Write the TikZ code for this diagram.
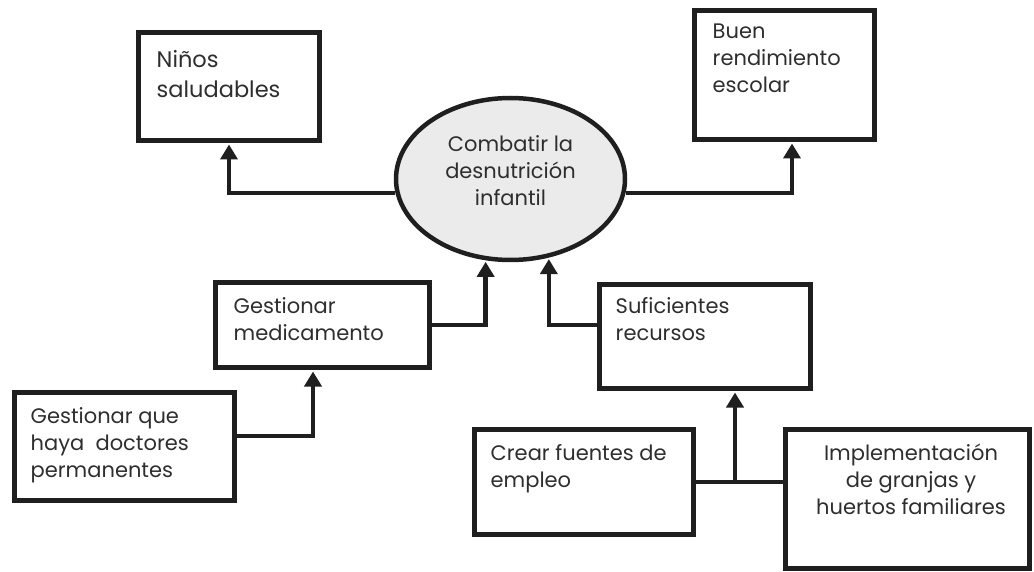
\documentclass[tikz,border=0pt]{standalone}
\usepackage{fontspec}
\setmainfont{Poppins}
\usetikzlibrary{arrows.meta, shapes.geometric}
\definecolor{ink}{HTML}{1F1F1F}
\definecolor{txtgray}{HTML}{2E2E2E}
\definecolor{bubble}{HTML}{EBEBEB}

\begin{document}
\begin{tikzpicture}[x=1pt, y=-1pt]
	\tikzset{
		block/.style = {rectangle, draw=ink, line width=5pt, minimum width=#1},
		txt/.style = {inner sep=0pt, align=left, text=txtgray, font=\fontsize{21}{27}\selectfont},
		link/.style = {draw=ink, line width=4.5pt},
		arr/.style = {link, -{Triangle[width=17pt,length=15pt]}, shorten >=1.5pt}
	}
	\useasboundingbox (0,0) rectangle (1034,572);
	% cajas
	\node[block=181pt, minimum height=108pt] (ninos) at (229,86.5) {};
	\node[block=180pt, minimum height=129pt] (buen) at (784.5,75) {};
	\node[block=214pt, minimum height=85pt] (med) at (322.5,325) {};
	\node[block=220pt, minimum height=108pt] (doc) at (124.5,446.5) {};
	\node[block=211pt, minimum height=104pt] (suf) at (705,336.5) {};
	\node[block=219pt, minimum height=105pt] (crear) at (584,482) {};
	\node[block=244pt, minimum height=139pt] (imp) at (907.5,499) {};
	\node[ellipse, draw=ink, fill=bubble, line width=4.5pt, minimum width=229pt, minimum height=162pt] (cen) at (510.5,179) {};
	% textos
	\node[txt, anchor=north west, font=\fontsize{22.5}{30}\selectfont] (ninostxt) at ([shift={(20.5pt,-20pt)}]ninos.north west) {Niños\\saludables};
	\node[txt, anchor=north west] (buentxt) at ([shift={(20.5pt,-16pt)}]buen.north west) {Buen\\rendimiento\\escolar};
	\node[txt, anchor=north west] (medtxt) at ([shift={(20.5pt,-17pt)}]med.north west) {Gestionar\\medicamento};
	\node[txt, anchor=north west] (doctxt) at ([shift={(18.5pt,-17pt)}]doc.north west) {Gestionar que\\haya~ doctores\\permanentes};
	\node[txt, anchor=north west] (suftxt) at ([shift={(18.5pt,-15pt)}]suf.north west) {Suficientes\\recursos};
	\node[txt, anchor=north west] (creartxt) at ([shift={(18.5pt,-17pt)}]crear.north west) {Crear fuentes de\\empleo};
	\node[txt, anchor=north, align=center] (imptxt) at ([shift={(3.5pt,-17pt)}]imp.north) {Implementación\\de granjas y\\huertos familiares};
	\node[txt, align=center] (centxt) at (510.5,171) {Combatir la\\desnutrición\\infantil};
	% conectores
	\coordinate (jn) at (735,482);
	\draw[arr] (cen.187) -| (ninos.south);
	\draw[arr] (cen.353) -| ([xshift=7.5pt]buen.south);
	\draw[arr] (med.east) -| (cen.253);
	\draw[arr] (med.east -| suf.west) -| (cen.296);
	\draw[arr] ([yshift=10.5pt]doc.east) -| ([xshift=-9.5pt]med.south);
	\draw[link] (crear.east) -- (jn) -- (jn -| imp.west);
	\draw[arr] (jn) -- (jn |- suf.south);
\end{tikzpicture}
\end{document}
